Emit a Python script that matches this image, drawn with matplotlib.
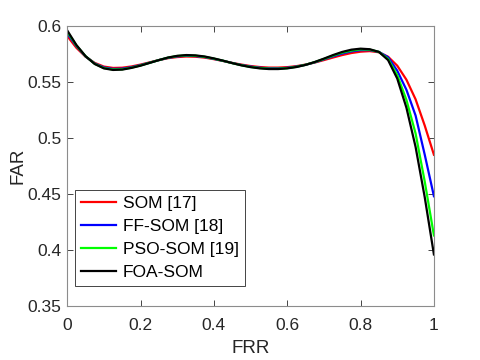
import numpy as np
import matplotlib.pyplot as plt

plt.rcParams['font.family'] = ['Liberation Sans', 'DejaVu Sans']

# FRR values (x axis)
frr = [0, 0.025, 0.05, 0.075, 0.1, 0.125, 0.15, 0.175, 0.2, 0.225, 0.25,
       0.275, 0.3, 0.325, 0.35, 0.375, 0.4, 0.425, 0.45, 0.475, 0.5,
       0.525, 0.55, 0.575, 0.6, 0.625, 0.65, 0.675, 0.7, 0.725, 0.75,
       0.775, 0.8, 0.825, 0.85, 0.875, 0.9, 0.925, 0.95, 0.975, 1.0]

# FAR for each method
som = [0.591, 0.5805, 0.5725, 0.567, 0.5637, 0.5625, 0.5627, 0.5638, 0.5655,
       0.5675, 0.5695, 0.5712, 0.5722, 0.5727, 0.5725, 0.5717, 0.5703,
       0.5687, 0.567, 0.5655, 0.5642, 0.5633, 0.5628, 0.5628, 0.5632,
       0.5641, 0.5655, 0.5673, 0.5695, 0.5718, 0.574, 0.5758, 0.577,
       0.5775, 0.5765, 0.5725, 0.5645, 0.552, 0.5345, 0.511, 0.485]
ff_som = [0.5935, 0.582, 0.5728, 0.5665, 0.5629, 0.5616, 0.5618, 0.5631,
          0.565, 0.5672, 0.5695, 0.5715, 0.5728, 0.5734, 0.5731, 0.5722,
          0.5706, 0.5688, 0.5669, 0.5651, 0.5637, 0.5627, 0.5621, 0.5621,
          0.5626, 0.5637, 0.5653, 0.5675, 0.5702, 0.5729, 0.5754, 0.5773,
          0.5784, 0.5784, 0.5768, 0.572, 0.560, 0.543, 0.520, 0.485, 0.448]
pso_som = [0.595, 0.5825, 0.573, 0.5662, 0.5624, 0.5611, 0.5613, 0.5627,
           0.5647, 0.5671, 0.5695, 0.5717, 0.5731, 0.5737, 0.5734, 0.5724,
           0.5708, 0.5689, 0.5668, 0.5649, 0.5634, 0.5624, 0.5618, 0.5618,
           0.5623, 0.5635, 0.5653, 0.5677, 0.5705, 0.5735, 0.5762, 0.578,
           0.5791, 0.5788, 0.5768, 0.5705, 0.556, 0.534, 0.504, 0.461, 0.413]
foa_som = [0.596, 0.583, 0.573, 0.566, 0.5621, 0.5607, 0.561, 0.5625,
           0.5645, 0.567, 0.5695, 0.5718, 0.5733, 0.574, 0.5737, 0.5727,
           0.571, 0.569, 0.5668, 0.5648, 0.5632, 0.5621, 0.5615, 0.5615,
           0.5621, 0.5633, 0.5652, 0.5678, 0.5708, 0.574, 0.5768, 0.5788,
           0.5797, 0.5792, 0.5768, 0.5695, 0.553, 0.527, 0.492, 0.447, 0.396]

labels = ['SOM [17]', 'FF-SOM [18]', 'PSO-SOM [19]', 'FOA-SOM']
colors = ['#ff0000', '#0000ff', '#00ff00', '#000000']

fig = plt.figure(figsize=(4.8, 3.6), dpi=100)
ax = fig.add_axes([0.14, 0.15, 0.764, 0.778])

for y, lab, c in zip([som, ff_som, pso_som, foa_som], labels, colors):
    ax.plot(frr, y, color=c, linewidth=1.6, label=lab)

ax.set_xlim(0, 1)
ax.set_ylim(0.35, 0.6)
ax.set_xticks(np.arange(0, 1.01, 0.2))
ax.set_xticklabels(['0', '0.2', '0.4', '0.6', '0.8', '1'])
ax.set_yticks([0.35, 0.4, 0.45, 0.5, 0.55, 0.6])
ax.set_yticklabels(['0.35', '0.4', '0.45', '0.5', '0.55', '0.6'])
ax.tick_params(direction='in', length=4, width=0.6, colors='#262626',
               labelsize=12.5, top=True, right=True)
ax.tick_params(axis='x', pad=9)
ax.tick_params(axis='y', pad=4)
for s in ax.spines.values():
    s.set_color('#8c8c8c')
    s.set_linewidth(0.8)

ax.set_xlabel('FRR', fontsize=13.5, color='#262626', labelpad=5)
ax.set_ylabel('FAR', fontsize=13.5, color='#262626', labelpad=1)

leg = ax.legend(loc='lower left', bbox_to_anchor=(0.022, 0.07),
                fontsize=12.5, fancybox=False, framealpha=1,
                edgecolor='#262626', handlelength=2.0, handletextpad=0.4,
                borderpad=0.35, labelspacing=0.45, borderaxespad=0)
leg.get_frame().set_linewidth(0.6)

plt.savefig('out.png', dpi=100)
